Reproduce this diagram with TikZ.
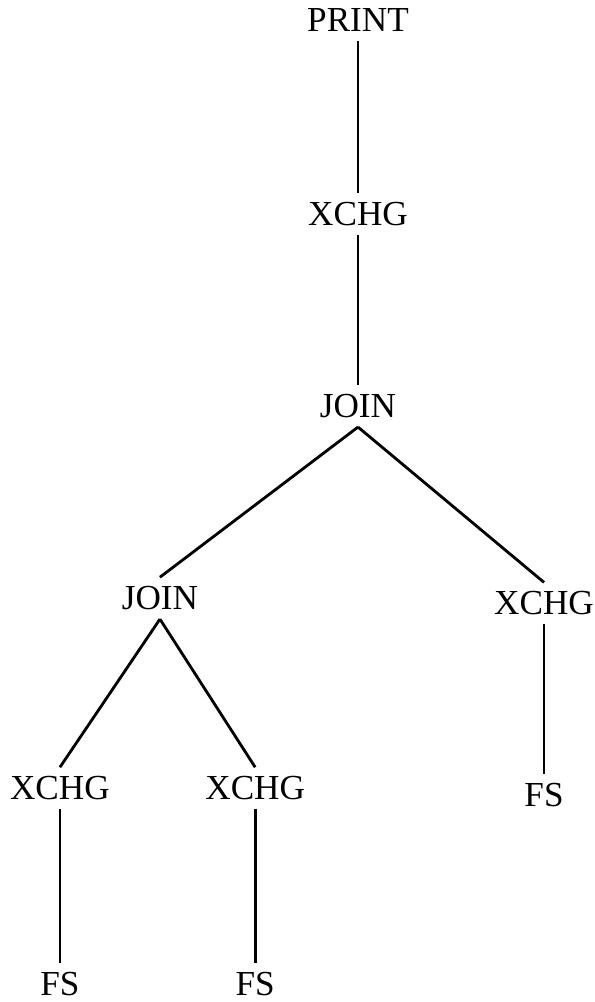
\documentclass[tikz,border=0pt]{standalone}
\usepackage{fontspec}
\setmainfont{Liberation Serif}
\usetikzlibrary{positioning}

\begin{document}
\begin{tikzpicture}[x=0.025cm,y=0.025cm,line width=2pt,on grid,node distance=4.85cm,
    op/.style={inner sep=5.5pt,font=\fontsize{25}{30}\selectfont}]

    \useasboundingbox (0,0) rectangle (594,-1002);

    \node[op] (print) at (358,-20) {PRINT};
    \node[op] (xchgA) [below=of print] {XCHG};
    \node[op] (joinA) [below=4.8cm of xchgA] {JOIN};

    \node[op] (joinB) [below left=4.8cm and 4.95cm of joinA] {JOIN};
    \node[op] (xchgB) [below right=4.93cm and 4.65cm of joinA] {XCHG};

    \node[op] (xchgC) [below left=4.75cm and 2.5cm of joinB] {XCHG};
    \node[op] (xchgD) [below right=4.75cm and 2.38cm of joinB] {XCHG};

    \node[op] (fsB) [below=4.8cm of xchgB] {FS};
    \node[op] (fsC) [below=4.9cm of xchgC] {FS};
    \node[op] (fsD) [below=4.9cm of xchgD] {FS};

    \path[draw] (print) edge (xchgA)
          (xchgA) edge (joinA)
          (joinA.south) edge (joinB.north)
                        edge (xchgB.north)
          (joinB.south) edge (xchgC.north)
                        edge (xchgD.north)
          (xchgB) edge (fsB)
          (xchgC) edge (fsC)
          (xchgD) edge (fsD);

\end{tikzpicture}
\end{document}
